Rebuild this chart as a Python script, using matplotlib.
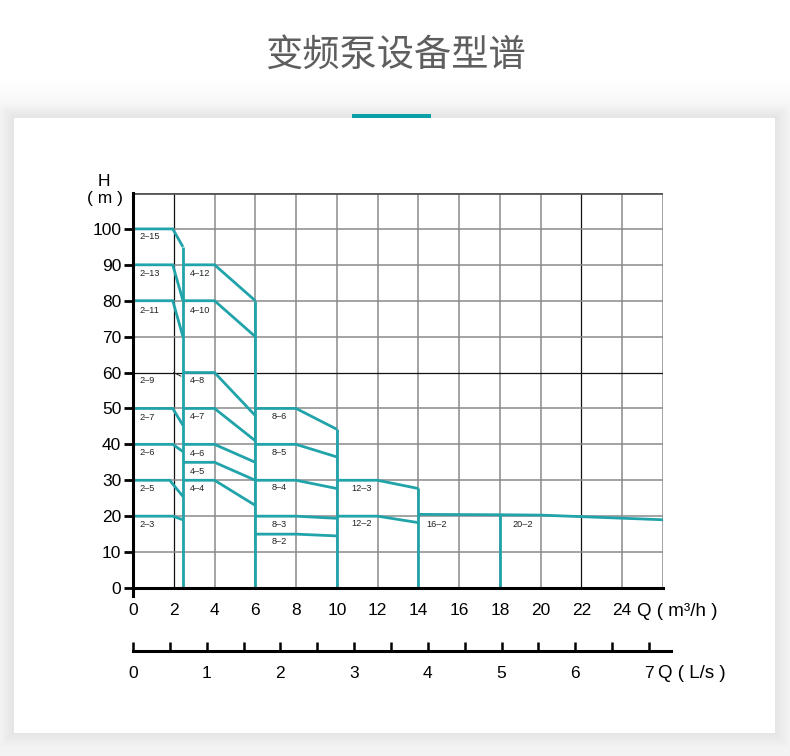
import matplotlib
matplotlib.use("Agg")
import matplotlib.pyplot as plt
from matplotlib.patches import Rectangle
import numpy as np

# ---------------- data ----------------
title = "变频泵设备型谱"

# pump curves: flow Q (m3/h) and head H (m)
curve_q = [
    [0, 1.95, 2.45],   # 2-15
    [0, 1.95, 2.45],   # 2-13
    [0, 1.95, 2.45],   # 2-11
    [0, 1.95, 2.45],   # 2-7
    [0, 1.95, 2.45],   # 2-6
    [0, 1.8, 2.45],    # 2-5
    [0, 1.95, 2.45],   # 2-3
    [2.45, 4, 6],      # 4-12
    [2.45, 4, 6],      # 4-10
    [2.45, 4, 6],      # 4-8
    [2.45, 4, 6],      # 4-7
    [2.45, 4, 6],      # 4-6
    [2.45, 4, 6],      # 4-5
    [2.45, 4, 6],      # 4-4
    [6, 8, 10],        # 8-6
    [6, 8, 10],        # 8-5
    [6, 8, 10],        # 8-4
    [6, 8, 10],        # 8-3
    [6, 8, 10],        # 8-2
    [10, 12, 14],      # 12-3
    [10, 12, 14],      # 12-2
    [14, 18],          # 16-2
    [18, 20, 26],      # 20-2
]
curve_h = [
    [100, 100, 95],
    [90, 90, 80],
    [80, 80, 70],
    [50, 50, 45.3],
    [40, 40, 38],
    [30, 30, 25.5],
    [20, 20, 19],
    [90, 90, 80],
    [80, 80, 70],
    [60, 60, 48],
    [50, 50, 41],
    [40, 40, 35],
    [35, 35, 30],
    [30, 30, 23],
    [50, 50, 44.2],
    [40, 40, 36.5],
    [30, 30, 27.7],
    [20, 20, 19.4],
    [15, 15, 14.5],
    [30, 30, 27.7],
    [20, 20, 18.2],
    [20.5, 20.4],
    [20.4, 20.3, 19],
]
# vertical boundary lines of each model group
bound_q = [2.45, 6, 10, 14, 18]
bound_h = [95, 80, 44.2, 27.8, 20.4]

# thin black stroke at 2-9
stroke29_q = [2.0, 2.35]
stroke29_h = [60, 59]

# model labels
label_names = ["2–15", "2–13", "2–11", "2–9", "2–7", "2–6", "2–5", "2–3",
               "4–12", "4–10", "4–8", "4–7", "4–6", "4–5", "4–4",
               "8–6", "8–5", "8–4", "8–3", "8–2",
               "12–3", "12–2", "16–2", "20–2"]
label_q = [0.3] * 8 + [2.8] * 7 + [6.8] * 5 + [10.7, 10.7, 14.4, 18.6]
label_h = [97.8, 87.7, 77.4, 57.7, 47.6, 37.6, 27.6, 17.8,
           87.5, 77.4, 57.7, 47.7, 37.5, 32.4, 27.6,
           47.7, 37.8, 27.9, 17.8, 12.9,
           27.8, 18.0, 17.8, 17.8]

h_ticks = list(range(0, 101, 10))
q_ticks = list(range(0, 25, 2))
grid_q = list(range(2, 27, 2))
grid_h = list(range(10, 111, 10))
dark_grid_q = [2, 22]
dark_grid_h = [60]
ls_ticks = list(range(0, 8))
ls_minor = [0.5 + i for i in range(7)]

# ---------------- figure ----------------
W, H = 790, 756
TEAL = "#21a3aa"
fig = plt.figure(figsize=(W / 100, H / 100), dpi=100)
fig.patch.set_facecolor("white")


def fx(px):
    return px / W


def fy(py):
    return 1 - py / H


# soft background / shadow around the card
for i in range(12):
    top = 80 + i * 3
    fig.add_artist(Rectangle((0, 0), 1, fy(top), transform=fig.transFigure,
                             facecolor="#000000", alpha=0.003,
                             edgecolor="none", zorder=0))
card = (14, 118, 775, 733)
for k in range(14, 0, -1):
    fig.add_artist(Rectangle((fx(card[0] - k), fy(card[3] + k)),
                             (card[2] - card[0] + 2 * k) / W,
                             (card[3] - card[1] + 2 * k) / H,
                             transform=fig.transFigure, facecolor="#000000",
                             alpha=0.004, edgecolor="none", zorder=1))
fig.add_artist(Rectangle((fx(card[0]), fy(card[3])), (card[2] - card[0]) / W,
                         (card[3] - card[1]) / H, transform=fig.transFigure,
                         facecolor="white", edgecolor="none", zorder=2))

# title and accent bar
fig.text(0.5, fy(55), title, ha="center", va="center", fontsize=26.8,
         color="#5e5e5e", family=["Noto Sans CJK SC", "DejaVu Sans"], zorder=3)
fig.add_artist(Rectangle((fx(352), fy(118)), (431 - 352) / W, 4 / H,
                         transform=fig.transFigure, facecolor="#0aa0a8",
                         edgecolor="none", zorder=3))

FONT = "Liberation Sans"

# main chart
ax = fig.add_axes([fx(133), fy(588), (663 - 133) / W, (588 - 193) / H])
ax.set_zorder(5)
ax.patch.set_alpha(0)
ax.set_xlim(0, 26)
ax.set_ylim(0, 110)

for q in grid_q:
    dark = q in dark_grid_q
    ax.axvline(q, color="#111111" if dark else "#8a8a8a",
               lw=0.9 if dark else 1.1, zorder=1)
for h in grid_h:
    if h == 110:
        ax.axhline(h, color="#555555", lw=2.0, zorder=1)
        continue
    dark = h in dark_grid_h
    ax.axhline(h, color="#111111" if dark else "#8a8a8a",
               lw=0.9 if dark else 1.1, zorder=1)

for qs, hs in zip(curve_q, curve_h):
    ax.plot(qs, hs, color=TEAL, lw=2.0, solid_capstyle="butt",
            solid_joinstyle="miter", zorder=3)
for q, h in zip(bound_q, bound_h):
    ax.plot([q, q], [0, h], color=TEAL, lw=2.0, solid_capstyle="butt", zorder=3)
ax.plot(stroke29_q, stroke29_h, color="#222222", lw=0.7, zorder=3)

for name, q, h in zip(label_names, label_q, label_h):
    ax.text(q, h, name, fontsize=6.6, family=FONT, color="#222222",
            ha="left", va="center", zorder=4)

for s in ["top", "right"]:
    ax.spines[s].set_visible(False)
ax.spines["left"].set_linewidth(2.2)
ax.spines["bottom"].set_linewidth(2.2)
ax.spines["left"].set_bounds(-2.2, 110)
ax.spines["left"].set_zorder(6)
ax.spines["bottom"].set_zorder(6)

ax.set_yticks(h_ticks)
ax.set_yticklabels([str(v) for v in h_ticks], fontsize=12.5, family=FONT)
ax.set_xticks(q_ticks)
ax.set_xticklabels([str(v) for v in q_ticks], fontsize=12.5, family=FONT)
ax.tick_params(axis="y", direction="out", length=6.5, width=2.0, pad=2,
               color="black")
ax.tick_params(axis="x", length=0, pad=11)

fig.text(fx(104), fy(181), "H", ha="center", va="center", fontsize=12.5,
         family=FONT, zorder=6)
fig.text(fx(105), fy(198), "( m )", ha="center", va="center", fontsize=12.5,
         family=FONT, zorder=6)
fig.text(fx(637), fy(611), "Q ( m³/h )", ha="left", va="center", fontsize=13.5,
         family=FONT, zorder=6)

# L/s scale
px_per_ls = (649 - 133) / 7
ax2 = fig.add_axes([fx(133), fy(651), (671 - 133) / W, 0.02])
ax2.set_zorder(5)
ax2.patch.set_alpha(0)
ax2.set_xlim(0, (671 - 133) / px_per_ls)
ax2.set_ylim(0, 1)
for s in ["top", "right", "left"]:
    ax2.spines[s].set_visible(False)
ax2.spines["bottom"].set_linewidth(2.2)
ax2.set_yticks([])
ax2.set_xticks(ls_ticks)
ax2.set_xticklabels([str(v) for v in ls_ticks], fontsize=12.5, family=FONT)
ax2.set_xticks(ls_minor, minor=True)
ax2.tick_params(axis="x", which="both", direction="in", length=6.5, width=1.8,
                pad=11)
fig.text(fx(658), fy(673), "Q ( L/s )", ha="left", va="center", fontsize=13.5,
         family=FONT, zorder=6)

fig.savefig("out.png", dpi=100)
